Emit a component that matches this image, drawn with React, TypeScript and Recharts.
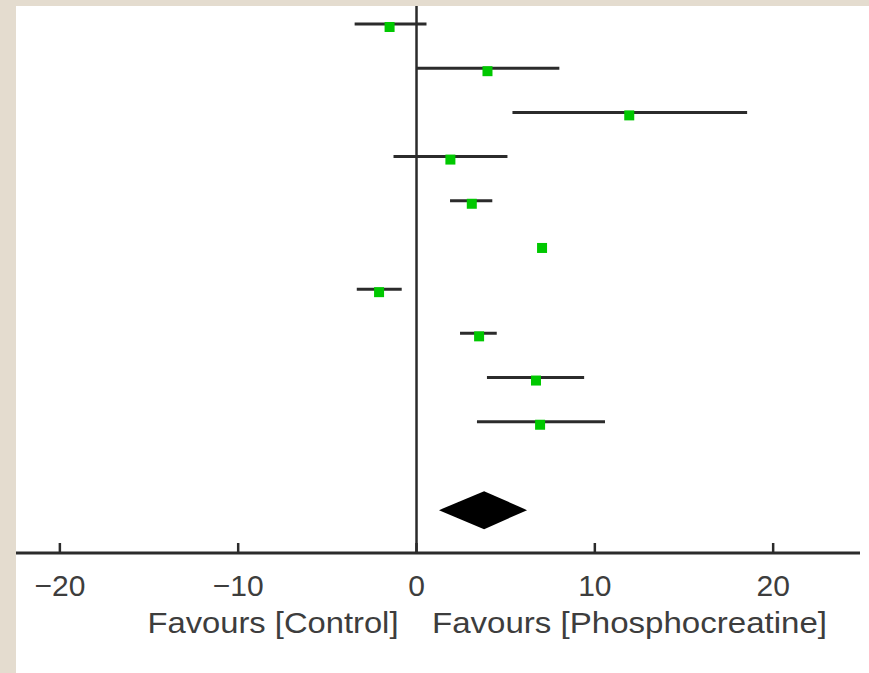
import { ComposedChart, Scatter, ErrorBar, Area, XAxis, YAxis, ReferenceLine } from "recharts"

// study rows, top to bottom
const studyRow = [1, 2, 3, 4, 5, 6, 7, 8, 9, 10]
const studyEst = [-1.51, 3.98, 11.93, 1.9, 3.1, 7.04, -2.1, 3.51, 6.7, 6.93]
const studyLow = [-3.47, 0.0, 5.38, -1.29, 1.88, 6.85, -3.35, 2.44, 3.95, 3.39]
const studyHigh = [0.56, 8.01, 18.54, 5.1, 4.25, 7.23, -0.83, 4.5, 9.4, 10.57]

// pooled estimate (diamond)
const pooledRow = 12
const pooledEst = 3.79
const pooledLow = 1.26
const pooledHigh = 6.2
const diamondHalf = 0.43

const xTicks = [-20, -10, 0, 10, 20]
const xDomain = [-22.46, 24.87]
const yDomain = [0.593, 12.97]

const studies = studyRow.map((row, i) => ({
  x: studyEst[i],
  y: row,
  err: [studyEst[i] - studyLow[i], studyHigh[i] - studyEst[i]],
}))

const diamond = [
  { x: pooledLow, band: [pooledRow, pooledRow] },
  { x: pooledEst, band: [pooledRow - diamondHalf, pooledRow + diamondHalf] },
  { x: pooledHigh, band: [pooledRow, pooledRow] },
]

const FONT = '"Liberation Sans", Arial, sans-serif'
const TEXT = "#3d3d3d"
const INK = "#2b2b2b"

const fmt = (v: number) => (v < 0 ? `\u2212${-v}` : `${v}`)

function Tick({ x, y, payload }: any) {
  return (
    <g>
      <line x1={x} x2={x} y1={y - 10} y2={y} stroke={INK} strokeWidth={2.5} />
      <text x={x} y={y + 43} textAnchor="middle" fontSize={30} fill={TEXT} fontFamily={FONT}>
        {fmt(payload.value)}
      </text>
    </g>
  )
}

// green square sits a little below its CI line, as in the original
function Square({ cx, cy }: any) {
  return <rect x={cx - 5} y={cy - 2} width={10} height={10} fill="#00c800" />
}

function FavoursLabels({ viewBox }: any) {
  const x0 = viewBox.x
  const yb = viewBox.y + viewBox.height + 80
  return (
    <g fontFamily={FONT} fontSize={30} fill={TEXT}>
      <text x={x0 - 269} y={yb} textLength={251} lengthAdjust="spacingAndGlyphs">
        Favours [Control]
      </text>
      <text x={x0 + 15.5} y={yb} textLength={395} lengthAdjust="spacingAndGlyphs">
        Favours [Phosphocreatine]
      </text>
    </g>
  )
}

export default function App() {
  return (
    <div style={{ position: "fixed", left: 0, top: 0, width: 869, height: 673, background: "#e4dccf" }}>
      <div style={{ position: "absolute", left: 16, top: 6, right: 0, bottom: 0, background: "#fff" }} />
      <div style={{ position: "absolute", left: 0, top: 0 }}>
        <ComposedChart width={869} height={673} margin={{ top: 6, right: 9, bottom: 0, left: 16 }}>
          <XAxis
            type="number"
            dataKey="x"
            domain={xDomain}
            ticks={xTicks}
            allowDataOverflow
            height={120}
            tickSize={0}
            tickMargin={0}
            tickLine={false}
            tick={<Tick />}
            axisLine={{ stroke: INK, strokeWidth: 3 }}
          />
          <YAxis type="number" dataKey="y" domain={yDomain} reversed hide allowDataOverflow />
          <ReferenceLine x={0} stroke={INK} strokeWidth={2.5} label={<FavoursLabels />} />
          <Area
            data={diamond}
            dataKey="band"
            type="linear"
            fill="#000"
            fillOpacity={1}
            stroke="none"
            isAnimationActive={false}
          />
          <Scatter data={studies} dataKey="y" shape={<Square />} isAnimationActive={false}>
            <ErrorBar dataKey="err" direction="x" width={0} stroke={INK} strokeWidth={3} isAnimationActive={false} />
          </Scatter>
        </ComposedChart>
      </div>
    </div>
  )
}
